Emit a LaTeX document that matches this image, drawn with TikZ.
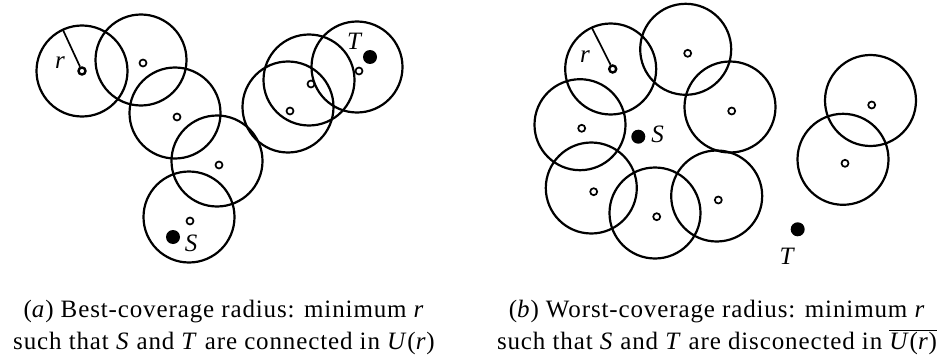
\documentclass[tikz,border=0pt]{standalone}
\usepackage{fontspec}
\setmainfont{Liberation Serif}

\begin{document}
\begin{tikzpicture}[x=1pt,y=-1pt,
    coverdisk/.style={line width=2.2pt},
    sensor/.style={circle, draw, line width=1.7pt, inner sep=0pt, minimum size=7pt},
    terminal/.style={circle, fill, inner sep=0pt, minimum size=14pt},
    lbl/.style={anchor=base, inner sep=0pt, font=\fontsize{25}{30}\selectfont\itshape},
    captext/.style={anchor=base, inner sep=0pt,
        font=\fontsize{25}{30}\selectfont\addfontfeature{LetterSpace=3.5}}]

    % --- White canvas ---
    \fill[white] (0,0) rectangle (945,361);
    \useasboundingbox (0,0) rectangle (945,361);

    % --- (a) Best coverage: chain of disks from S to T ---
    \draw[coverdisk] (82,71) circle (45.5);
    \draw[coverdisk] (141,60) circle (45.5);
    \draw[coverdisk] (175,113) circle (45.5);
    \draw[coverdisk] (217,161) circle (45.5);
    \draw[coverdisk] (189,217) circle (45.5);
    \draw[coverdisk] (288,107) circle (45.5);
    \draw[coverdisk] (309,80) circle (45.5);
    \draw[coverdisk] (357,67) circle (45.5);

    \node[sensor, line width=2.4pt] (a1) at (82,71) {};
    \node[sensor] (a2) at (143,63) {};
    \node[sensor] (a3) at (177,117) {};
    \node[sensor] (a4) at (219,165) {};
    \node[sensor] (a5) at (190,221) {};
    \node[sensor] (a6) at (290,111) {};
    \node[sensor] (a7) at (311,84) {};
    \node[sensor] (a8) at (359,71) {};

    \coordinate (aRim) at (63,30);
    \draw[line width=1.7pt] (a1) -- (aRim);
    \node[lbl] (aR) at (60,68) {r};

    \node[terminal] (aS) at (173,237) {};
    \node[lbl] (aSlabel) at (191,251) {S};
    \node[terminal] (aT) at (370,57) {};
    \node[lbl] (aTlabel) at (354,49) {T};

    % --- (b) Worst coverage: ring of disks around S ---
    \draw[coverdisk] (610.7,69) circle (45.5);
    \draw[coverdisk] (685.7,49.3) circle (45.5);
    \draw[coverdisk] (730,107) circle (45.5);
    \draw[coverdisk] (580,124.7) circle (45.5);
    \draw[coverdisk] (591.3,188) circle (45.5);
    \draw[coverdisk] (655,213) circle (45.5);
    \draw[coverdisk] (716.7,196) circle (45.5);
    \draw[coverdisk] (870.5,100.5) circle (45.5);
    \draw[coverdisk] (843,159.3) circle (45.5);

    \node[sensor, line width=2.4pt] (b1) at (612.7,69) {};
    \node[sensor] (b2) at (687.7,53.3) {};
    \node[sensor] (b3) at (731.7,111) {};
    \node[sensor] (b4) at (581.7,128.3) {};
    \node[sensor] (b5) at (593.7,191.7) {};
    \node[sensor] (b6) at (656.7,216.7) {};
    \node[sensor] (b7) at (718.3,200) {};
    \node[sensor] (b8) at (871.7,105) {};
    \node[sensor] (b9) at (845,163.3) {};

    \coordinate (bRim) at (592,28);
    \draw[line width=1.7pt] (b1) -- (bRim);
    \node[lbl] (bR) at (585,63) {r};

    \node[terminal] (bS) at (638.3,136.7) {};
    \node[lbl] (bSlabel) at (657.5,142) {S};
    \node[terminal] (bT) at (797.7,229.3) {};
    \node[lbl] (bTlabel) at (786.5,264) {T};

    % --- Captions ---
    \node[captext] (capA1) at (224,317)
        {(\textit{a}) Best-coverage radius: minimum \textit{r}};
    \node[captext] (capA2) at (224,349)
        {such that \textit{S} and \textit{T} are connected in \textit{U}(\textit{r})};
    \node[captext] (capB1) at (717,317)
        {(\textit{b}) Worst-coverage radius: minimum \textit{r}};
    \node[captext] (capB2) at (717,349)
        {such that \textit{S} and \textit{T} are disconected in $\overline{\mbox{\textit{U}(\textit{r})}}$};

\end{tikzpicture}
\end{document}
